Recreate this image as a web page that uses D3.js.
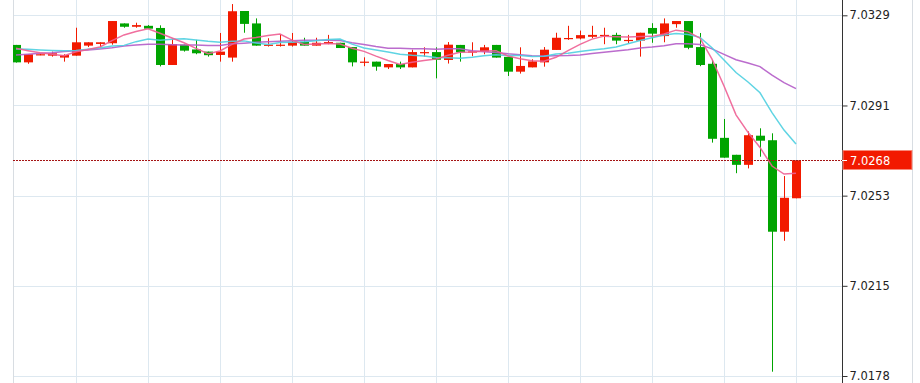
<!DOCTYPE html>
<html><head><meta charset="utf-8">
<script src="https://cdn.jsdelivr.net/npm/d3@7"></script>
<style>html,body{margin:0;padding:0;background:#fff;overflow:hidden}svg{display:block}</style>
</head><body><svg id="chart" width="920" height="383"></svg>
<script>
const opens = [7.03166,7.03093,7.03124,7.03121,7.03113,7.03121,7.03163,7.03170,7.03173,7.03256,
7.03242,7.03246,7.03237,7.03082,7.03167,7.03147,7.03138,7.03124,7.03113,7.03308,
7.03256,7.03164,7.03164,7.03163,7.03179,7.03163,7.03171,7.03175,7.03157,7.03093,
7.03096,7.03072,7.03086,7.03072,7.03133,7.03136,7.03103,7.03166,7.03135,7.03138,
7.03166,7.03116,7.03054,7.03072,7.03093,7.03145,7.03191,7.03193,7.03200,7.03203,
7.03208,7.03183,7.03184,7.03237,7.03203,7.03253,7.03266,7.03157,7.03087,7.02777,
7.02706,7.02664,7.02786,7.02767,7.02384,7.02524];
const highs = [7.03166,7.03127,7.03129,7.03138,7.03127,7.03238,7.03177,7.03177,7.03266,7.03256,
7.03259,7.03249,7.03248,7.03191,7.03167,7.03187,7.03138,7.03216,7.03337,7.03308,
7.03277,7.03194,7.03210,7.03216,7.03196,7.03196,7.03208,7.03175,7.03157,7.03114,
7.03096,7.03086,7.03096,7.03146,7.03156,7.03156,7.03178,7.03166,7.03177,7.03166,
7.03166,7.03116,7.03156,7.03106,7.03157,7.03217,7.03246,7.03226,7.03246,7.03238,
7.03217,7.03208,7.03217,7.03257,7.03277,7.03266,7.03266,7.03216,7.03103,7.02856,
7.02706,7.02804,7.02817,7.02796,7.02617,7.02683];
const lows = [7.03092,7.03087,7.03123,7.03117,7.03096,7.03121,7.03157,7.03156,7.03167,7.03238,
7.03238,7.03234,7.03076,7.03082,7.03138,7.03127,7.03117,7.03096,7.03096,7.03217,
7.03163,7.03159,7.03159,7.03159,7.03163,7.03163,7.03169,7.03153,7.03076,7.03077,
7.03058,7.03065,7.03065,7.03072,7.03117,7.03026,7.03088,7.03096,7.03119,7.03127,
7.03113,7.03036,7.03046,7.03072,7.03075,7.03145,7.03187,7.03189,7.03194,7.03169,
7.03169,7.03173,7.03117,7.03175,7.03177,7.03238,7.03148,7.03077,7.02757,7.02694,
7.02629,7.02649,7.02698,7.01798,7.02346,7.02524];
const closes = [7.03093,7.03127,7.03127,7.03131,7.03124,7.03177,7.03177,7.03177,7.03266,7.03242,
7.03249,7.03234,7.03082,7.03169,7.03142,7.03131,7.03123,7.03138,7.03307,7.03254,
7.03163,7.03167,7.03167,7.03179,7.03163,7.03175,7.03178,7.03153,7.03093,7.03096,
7.03075,7.03086,7.03072,7.03136,7.03136,7.03104,7.03167,7.03135,7.03139,7.03156,
7.03113,7.03054,7.03078,7.03097,7.03146,7.03196,7.03195,7.03207,7.03208,7.03208,
7.03184,7.03187,7.03217,7.03213,7.03256,7.03266,7.03154,7.03082,7.02773,7.02694,
7.02664,7.02788,7.02765,7.02384,7.02526,7.02683];
// moving-average values for the first candles (history before the window)
const ma5Lead = [7.03152,7.03142,7.03133,7.03127];
const ma10Lead = [7.03149,7.03148,7.03145,7.03143,7.03142,7.03143,7.03148,7.03153,7.03161];
const ma20Lead = [7.03124,7.03127,7.03131,7.03133,7.03138,7.03142,7.03145,7.03149,7.03154,7.03161,
7.03166,7.03169,7.03169,7.03167,7.03166,7.03166,7.03164,7.03164,7.03171];
const tickValues = [7.0329, 7.029125, 7.02535, 7.021575, 7.0178];
const tickLabels = ["7.0329","7.0291","7.0253","7.0215","7.0178"];
const lastPrice = 7.02683;
const lastPriceLabel = "7.0268";

const W = 920, H = 383;
const plotL = 13, axisX = 842, outerR = 912;
const svg = d3.select("#chart");
const n = closes.length;
const x = d3.scaleLinear().domain([0, n - 1]).range([16, 796]);
const y = d3.scaleLinear().domain([7.0178, 7.0329]).range([376, 15.3]);

function movingAvg(len, lead) {
  return closes.map((c, i) => i < lead.length ? lead[i] : d3.mean(closes.slice(i - len + 1, i + 1)));
}
const ma5 = movingAvg(5, ma5Lead), ma10 = movingAvg(10, ma10Lead), ma20 = movingAvg(20, ma20Lead);

svg.append("defs").append("clipPath").attr("id", "plotclip")
  .append("rect").attr("x", plotL).attr("y", 0).attr("width", axisX - plotL).attr("height", H);

const grid = svg.append("g");
d3.range(n).filter(i => (n - 1 - i) % 6 === 0).forEach(i => {
  grid.append("line").attr("x1", Math.round(x(i)) + 0.5).attr("x2", Math.round(x(i)) + 0.5)
    .attr("y1", 0).attr("y2", H).attr("stroke", "#dde8f0").attr("stroke-width", 1);
});
tickValues.forEach(v => {
  grid.append("line").attr("x1", plotL).attr("x2", axisX)
    .attr("y1", Math.round(y(v)) + 0.5).attr("y2", Math.round(y(v)) + 0.5)
    .attr("stroke", "#dde8f0").attr("stroke-width", 1);
});
svg.append("line").attr("x1", plotL + 0.5).attr("x2", plotL + 0.5).attr("y1", 0).attr("y2", H)
  .attr("stroke", "#d8dde2");
svg.append("line").attr("x1", outerR + 0.5).attr("x2", outerR + 0.5).attr("y1", 0).attr("y2", H)
  .attr("stroke", "#d8dde2");

const plot = svg.append("g").attr("clip-path", "url(#plotclip)");
const UP = "#f21a00", DOWN = "#00a400";
const bw = 9;
d3.range(n).forEach(i => {
  const up = closes[i] >= opens[i];
  const col = up ? UP : DOWN;
  const cx = Math.round(x(i)) + 0.5;
  plot.append("line").attr("x1", cx).attr("x2", cx)
    .attr("y1", y(highs[i])).attr("y2", y(lows[i])).attr("stroke", col).attr("stroke-width", 1);
  const top = y(Math.max(opens[i], closes[i])), bot = y(Math.min(opens[i], closes[i]));
  plot.append("rect").attr("x", cx - bw / 2).attr("y", top)
    .attr("width", bw).attr("height", Math.max(1.2, bot - top)).attr("fill", col);
});

const line = d3.line().x((d, i) => x(i)).y(d => y(d)).curve(d3.curveLinear);
[[ma20, "#b45cc8"], [ma10, "#4ecfe0"], [ma5, "#ee5f94"]].forEach(([arr, c]) => {
  plot.append("path").datum(arr).attr("d", line).attr("fill", "none")
    .attr("stroke", c).attr("stroke-width", 1.5).attr("stroke-opacity", 0.9);
});

const ly = Math.round(y(lastPrice)) + 0.5;
svg.append("line").attr("x1", plotL).attr("x2", axisX).attr("y1", ly).attr("y2", ly)
  .attr("stroke", "#a51515").attr("stroke-width", 1).attr("stroke-dasharray", "2,1");

const axis = d3.axisRight(y).tickValues(tickValues).tickFormat((d, i) => tickLabels[i])
  .tickSize(5).tickPadding(2);
const ag = svg.append("g").attr("transform", `translate(${axisX + 0.5},0)`).call(axis);
ag.select(".domain").attr("stroke", "#333").attr("d", `M0,0V${H}`);
ag.selectAll(".tick line").attr("stroke", "#333");
ag.selectAll(".tick text").attr("font-family", "DejaVu Sans, Verdana, sans-serif")
  .attr("font-size", 11.5).attr("fill", "#222");

const lbl = svg.append("g");
lbl.append("rect").attr("x", axisX + 1).attr("y", ly - 10).attr("width", outerR - axisX - 1).attr("height", 19)
  .attr("fill", UP).attr("stroke", "#f88a7a").attr("stroke-width", 1);
lbl.append("line").attr("x1", axisX).attr("x2", axisX + 5).attr("y1", ly).attr("y2", ly).attr("stroke", "#fff");
lbl.append("text").attr("x", axisX + 8).attr("y", ly).attr("dy", "0.35em")
  .attr("font-family", "DejaVu Sans, Verdana, sans-serif").attr("font-size", 11.5)
  .attr("fill", "#fff").text(lastPriceLabel);
</script></body></html>
